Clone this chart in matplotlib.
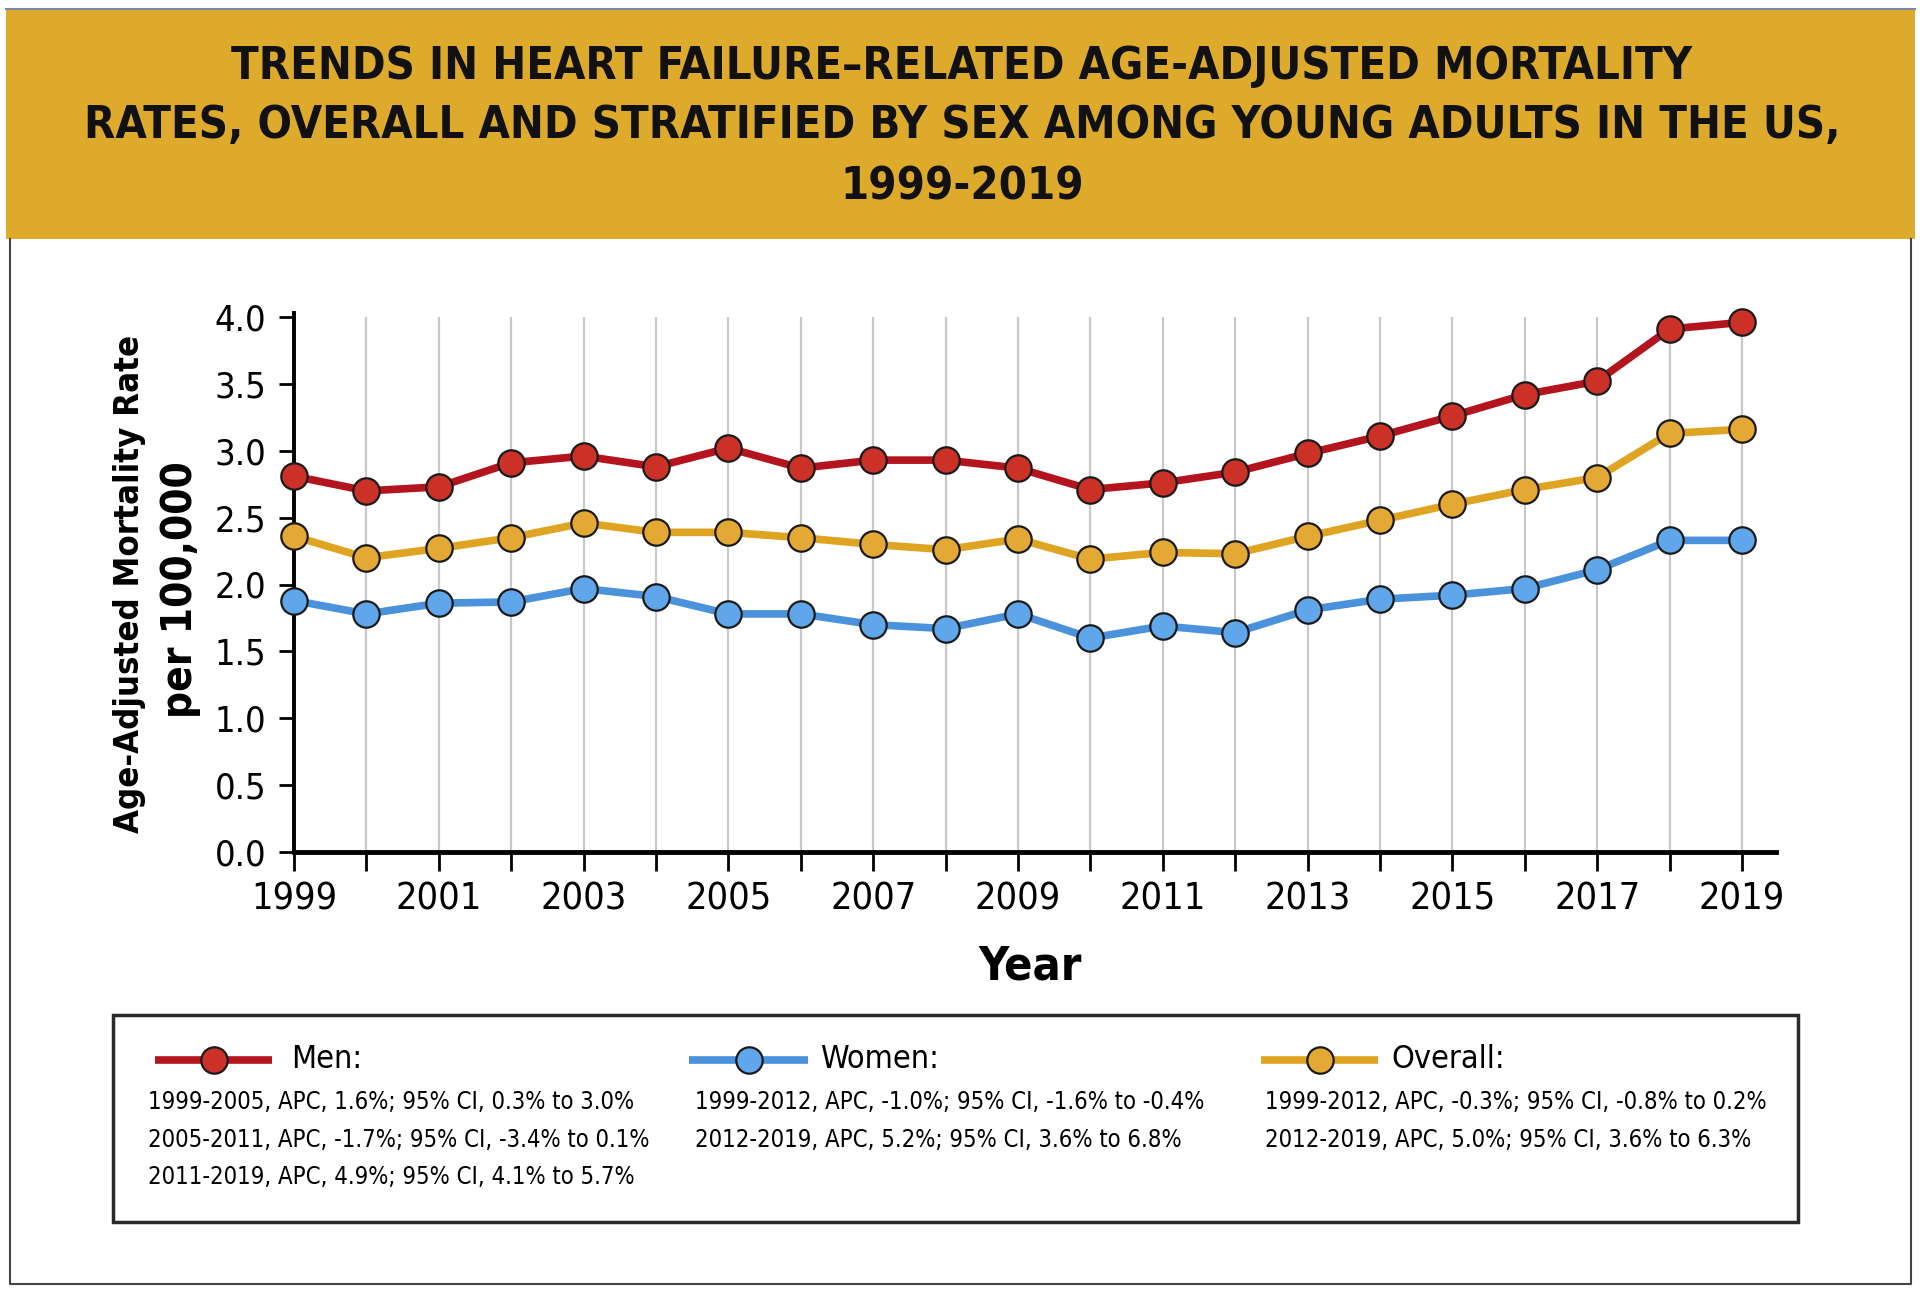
import os
import matplotlib
matplotlib.use("Agg")
import matplotlib.pyplot as plt
import matplotlib.font_manager as fm
from matplotlib.patches import Rectangle
from matplotlib.lines import Line2D

# ---------------- data ----------------
years = list(range(1999, 2020))
men = [2.81, 2.70, 2.73, 2.91, 2.96, 2.88, 3.02, 2.87, 2.93, 2.93, 2.87,
       2.71, 2.76, 2.84, 2.98, 3.11, 3.26, 3.42, 3.52, 3.91, 3.96]
overall = [2.36, 2.20, 2.27, 2.35, 2.46, 2.39, 2.39, 2.35, 2.30, 2.26, 2.34,
           2.19, 2.24, 2.23, 2.36, 2.48, 2.60, 2.71, 2.80, 3.13, 3.16]
women = [1.88, 1.78, 1.86, 1.87, 1.97, 1.91, 1.78, 1.78, 1.70, 1.67, 1.78,
         1.60, 1.69, 1.64, 1.81, 1.89, 1.92, 1.97, 2.11, 2.33, 2.33]
yticks = [0.0, 0.5, 1.0, 1.5, 2.0, 2.5, 3.0, 3.5, 4.0]
xtick_years = list(range(1999, 2020, 2))

title_lines = ["TRENDS IN HEART FAILURE\u2013RELATED AGE-ADJUSTED MORTALITY",
               "RATES, OVERALL AND STRATIFIED BY SEX AMONG YOUNG ADULTS IN THE US,",
               "1999-2019"]
ylabel_lines = ["Age-Adjusted Mortality Rate", "per 100,000"]
xlabel = "Year"

series_names = ["Men:", "Women:", "Overall:"]
series_notes = [
    ["1999-2005, APC, 1.6%; 95% CI, 0.3% to 3.0%",
     "2005-2011, APC, -1.7%; 95% CI, -3.4% to 0.1%",
     "2011-2019, APC, 4.9%; 95% CI, 4.1% to 5.7%"],
    ["1999-2012, APC, -1.0%; 95% CI, -1.6% to -0.4%",
     "2012-2019, APC, 5.2%; 95% CI, 3.6% to 6.8%"],
    ["1999-2012, APC, -0.3%; 95% CI, -0.8% to 0.2%",
     "2012-2019, APC, 5.0%; 95% CI, 3.6% to 6.3%"],
]

# ---------------- style ----------------
line_colors = ["#B3141D", "#4A92DB", "#DFA422"]
fill_colors = ["#CC3128", "#5FA7EA", "#E4A935"]
band_color = "#DEAA2C"


def pick_font(bold):
    prefs = ["liberationsansnarrow", "notosans", "dejavusans", "opensans", "roboto", "lato"]
    found = []
    for f in fm.fontManager.ttflist:
        fn = os.path.basename(f.fname).lower().replace("-", "").replace("_", "")
        if not ("condensed" in fn or "narrow" in fn):
            continue
        if "mono" in fn or "italic" in fn or "oblique" in fn:
            continue
        if "serif" in fn and "sans" not in fn:
            continue
        if any(k in fn for k in ["semi", "extra", "ultra", "light", "thin", "black", "medium"]):
            continue
        isbold = "bold" in fn
        if isbold != bold:
            continue
        rank = len(prefs)
        for i, p in enumerate(prefs):
            if fn.startswith(p):
                rank = i
                break
        found.append((rank, f.fname))
    if found:
        found.sort()
        return found[0][1]
    return None


REG = pick_font(False)
BOLD = pick_font(True)


def fp(bold, size):
    path = BOLD if bold else REG
    if path:
        return fm.FontProperties(fname=path, size=size)
    return fm.FontProperties(family="Liberation Sans",
                             weight="bold" if bold else "normal", size=size)


W, H = 1920, 1293
fig = plt.figure(figsize=(W / 100, H / 100), dpi=100)
fig.patch.set_facecolor("white")

ov = fig.add_axes([0, 0, 1, 1], zorder=-1)
ov.set_xlim(0, W)
ov.set_ylim(H, 0)
ov.axis("off")

renderer = fig.canvas.get_renderer()


def size_for(s, target, bold=False, base=30):
    t = ov.text(0, 0, s, fontproperties=fp(bold, base))
    bb = t.get_window_extent(renderer)
    t.remove()
    return base * target / bb.width


def put(x, y, s, size, bold=False, ha="center", va="center", rotation=0, color="black"):
    return ov.text(x, y, s, fontproperties=fp(bold, size), ha=ha, va=va,
                   rotation=rotation, color=color)


# title band & frame
ov.add_patch(Rectangle((6, 10), 1909, 229, facecolor=band_color, edgecolor="none"))
ov.plot([6, 1915], [9, 9], color="#7C8BA3", lw=1.5)
ov.plot([10, 10, 1911, 1911], [239, 1284, 1284, 239], color="#444444", lw=1.5)

tsize = size_for(title_lines[1], 1752, bold=True)
for s, yy in zip(title_lines, [67, 126, 187]):
    put(962, yy, s, tsize, bold=True, color="#111111")

# ---------------- main chart ----------------
ax = fig.add_axes([294 / W, 1 - 852 / H, 1482 / W, 535 / H])
ax.set_facecolor("none")
for yr in years:
    ax.plot([yr, yr], [0, 4.0], color="#C9C9C9", lw=1.6, zorder=1)

for vals, ci in zip([men, overall, women], [0, 2, 1]):
    ax.plot(years, vals, color=line_colors[ci], lw=5.5, marker="o", markersize=19,
            markerfacecolor=fill_colors[ci], markeredgecolor="#1a1a1a",
            markeredgewidth=1.6, solid_capstyle="round", clip_on=False, zorder=3)

ax.set_xlim(1999, 2019.47)
ax.set_ylim(0, 4.0)
for sp in ["top", "right"]:
    ax.spines[sp].set_visible(False)
ax.spines["left"].set_linewidth(2.8)
ax.spines["bottom"].set_linewidth(3.5)
ax.spines["left"].set_bounds(0, 4.03)

ax.set_yticks(yticks)
ax.set_yticklabels([f"{v:.1f}" for v in yticks])
ax.set_xticks(years)
ax.set_xticklabels([str(y) if y in xtick_years else "" for y in years])

xs = size_for("2019", 73) * 1.18
ys_ = size_for("4.0", 43) * 1.2
ax.tick_params(axis="x", direction="out", length=14, width=2, pad=7, colors="black")
ax.tick_params(axis="y", direction="out", length=11, width=2, pad=9, colors="black")
for lab in ax.get_xticklabels():
    lab.set_fontproperties(fp(False, xs))
for lab in ax.get_yticklabels():
    lab.set_fontproperties(fp(False, ys_))

put(1030, 967, xlabel, size_for(xlabel, 92, bold=True) * 1.12, bold=True)
put(129, 584, ylabel_lines[0], size_for(ylabel_lines[0], 496, bold=True), bold=True, rotation=90)
put(180, 590, ylabel_lines[1], size_for(ylabel_lines[1], 257, bold=True), bold=True, rotation=90)

# ---------------- legend box ----------------
ov.add_patch(Rectangle((113, 1015), 1685, 207, facecolor="white",
                       edgecolor="#2a2a2a", lw=2.5))
hx = [(155, 272), (689, 808), (1261, 1378)]
tx = [291, 820, 1391]
dx = [148, 695, 1265]
hsize = size_for("Women:", 110) * 1.08
dsize = size_for(series_notes[0][1], 503)
for i in range(3):
    x0, x1 = hx[i]
    ov.add_line(Line2D([x0, x1], [1060, 1060], color=line_colors[i], lw=5.5,
                       solid_capstyle="butt"))
    ov.plot([(x0 + x1) / 2], [1060], marker="o", markersize=19,
            markerfacecolor=fill_colors[i], markeredgecolor="#1a1a1a",
            markeredgewidth=1.6)
    put(tx[i], 1060, series_names[i], hsize, ha="left")
    for j, s in enumerate(series_notes[i]):
        put(dx[i], 1102 + j * 37.5, s, dsize, ha="left")

fig.savefig("out.png", dpi=100, facecolor="white")
